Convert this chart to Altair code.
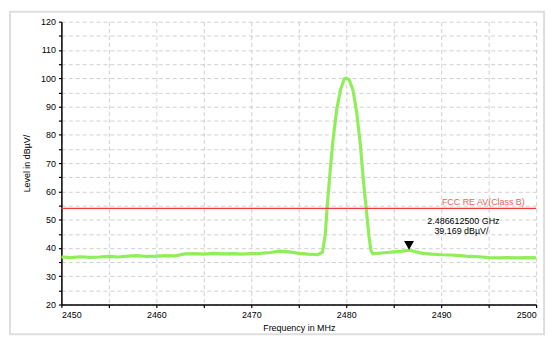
import altair as alt
import pandas as pd

# Measured trace (frequency in MHz, level in dBµV/m)
freq = [2450, 2451, 2452, 2453, 2454, 2455, 2456, 2457, 2458, 2459,
        2460, 2461, 2462, 2463, 2464, 2465, 2466, 2467, 2468, 2469,
        2470, 2471, 2472, 2473, 2474, 2475, 2476, 2477, 2477.5, 2477.8,
        2478.0, 2478.3, 2478.6, 2479.0, 2479.4, 2479.8, 2480.0, 2480.3, 2480.7, 2481.1,
        2481.5, 2481.8, 2482.1, 2482.4, 2482.6, 2482.8, 2483, 2484, 2485, 2486,
        2486.6, 2487, 2488, 2489, 2490, 2491, 2492, 2493, 2494, 2495,
        2496, 2497, 2498, 2499, 2500]
level = [36.8, 36.6, 36.9, 36.7, 36.8, 37.0, 36.8, 37.1, 37.3, 37.0,
         37.1, 37.3, 37.2, 37.9, 38.0, 37.8, 38.1, 37.9, 38.0, 37.8,
         38.0, 38.1, 38.4, 38.9, 38.6, 38.1, 37.8, 37.6, 38.5, 45.0,
         55.0, 67.0, 78.0, 89.0, 96.0, 99.8, 100.0, 99.5, 96.0, 88.0,
         76.0, 64.0, 54.0, 44.0, 39.0, 38.0, 38.0, 38.3, 38.6, 38.9,
         39.2, 38.9, 38.1, 37.8, 37.6, 37.5, 37.3, 37.0, 36.9, 36.6,
         36.5, 36.6, 36.5, 36.6, 36.5]

limit_freq = [2450, 2500]
limit_level = [54, 54]
limit_label = "FCC RE AV(Class B)"

marker_freq = [2486.6125]
marker_level = [39.169]
marker_line1 = ["2.486612500 GHz"]
marker_line2 = ["39.169 dBµV/"]

x_ticks = [2450 + 5 * i for i in range(11)]
y_ticks = [20 + 5 * i for i in range(21)]

trace = pd.DataFrame({"f": freq, "v": level})
limit = pd.DataFrame({"f": limit_freq, "v": limit_level})
marker = pd.DataFrame({"f": marker_freq, "v": marker_level,
                       "t1": marker_line1, "t2": marker_line2})
lab = pd.DataFrame({"f": [2498.8], "v": [54], "t": [limit_label]})

FONT = "Liberation Sans"

xs = alt.Scale(domain=[2450, 2500], nice=False, zero=False)
ys = alt.Scale(domain=[20, 120], nice=False, zero=False)

common = dict(grid=True, gridDash=[4, 3], gridColor="#c4c4c4", gridWidth=0.8,
              domainColor="#000000", domainWidth=1.5, tickColor="#000000",
              tickSize=3, tickWidth=1.2, labelFontSize=9, titleFontSize=9,
              labelFont=FONT, titleFont=FONT, titleFontWeight="normal",
              labelColor="#000000", titleColor="#000000", labelOverlap=False,
              format="d", labelExpr="datum.value % 10 == 0 ? datum.label : ''")

x_axis = alt.Axis(values=x_ticks, title="Frequency in MHz",
                  labelPadding=3, titlePadding=4, **common)
y_axis = alt.Axis(values=y_ticks, title="Level in dBµV/",
                  labelPadding=3, titlePadding=9, **common)

X = alt.X("f:Q", scale=xs, axis=x_axis)
Y = alt.Y("v:Q", scale=ys, axis=y_axis)

base_trace = alt.Chart(trace).mark_line(color="#90EE58", strokeWidth=3.2).encode(x=X, y=Y)

limit_line = alt.Chart(limit).mark_line(color="#F03A3A", strokeWidth=1.2).encode(x=X, y=Y)

limit_text = alt.Chart(lab).mark_text(color="#F06060", fontSize=9, font=FONT,
                                      align="right", baseline="bottom", dy=-1).encode(
    x=X, y=Y, text="t:N")

mk = alt.Chart(marker).mark_point(shape="triangle-down", filled=True, color="#000000",
                                  size=100, opacity=1, yOffset=-5).encode(x=X, y=Y)

t1 = alt.Chart(marker).mark_text(fontSize=9, font=FONT, color="#000000", dx=55, dy=-30).encode(
    x=X, y=Y, text="t1:N")
t2 = alt.Chart(marker).mark_text(fontSize=9, font=FONT, color="#000000", dx=53, dy=-19).encode(
    x=X, y=Y, text="t2:N")

frame = alt.Chart(lab).mark_rect(fillOpacity=0, stroke="#dedede", strokeWidth=2, clip=False).encode(
    x=alt.value(-52), x2=alt.value(488), y=alt.value(-10), y2=alt.value(316))

chart = alt.layer(frame, base_trace, limit_line, limit_text, mk, t1, t2).properties(
    width=480, height=286,
    autosize=alt.AutoSizeParams(type="none"),
    padding={"left": 54, "top": 12, "right": 12, "bottom": 32},
    background="#ffffff",
).configure_view(stroke=None)

chart.save("out.html", embed_options={"renderer": "svg", "actions": False})
